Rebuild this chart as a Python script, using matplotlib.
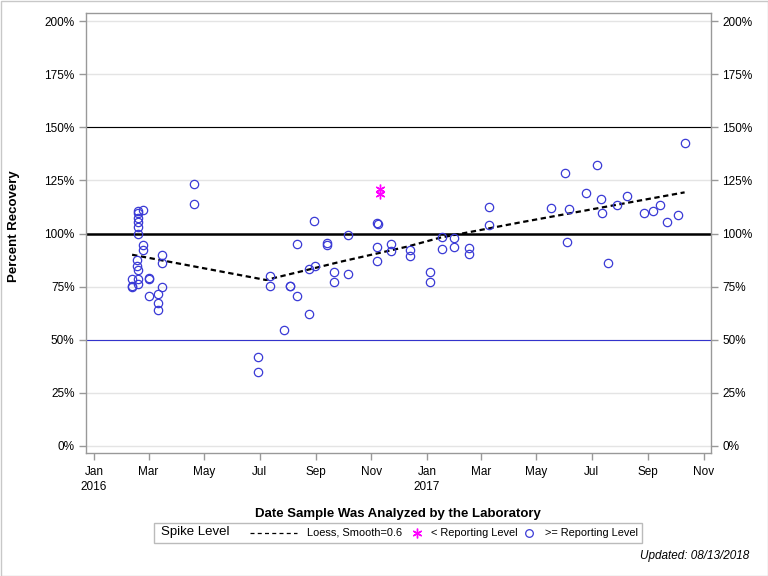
import matplotlib
matplotlib.use('Agg')
import matplotlib.pyplot as plt
import matplotlib.dates as mdates
from matplotlib.lines import Line2D
from matplotlib.patches import Rectangle
from matplotlib.ticker import FuncFormatter
import numpy as np

plt.rcParams['font.family'] = ['Liberation Sans', 'DejaVu Sans']

# ---------------- data ----------------
circle_dates = [
    '2016-02-12', '2016-02-12', '2016-02-12',
    '2016-02-17', '2016-02-17', '2016-02-18', '2016-02-18', '2016-02-18', '2016-02-18',
    '2016-02-18', '2016-02-18', '2016-02-19', '2016-02-19', '2016-02-19',
    '2016-02-24', '2016-02-24', '2016-02-24',
    '2016-03-01', '2016-03-01', '2016-03-01',
    '2016-03-11', '2016-03-11', '2016-03-11',
    '2016-03-16', '2016-03-16', '2016-03-16',
    '2016-04-20', '2016-04-20',
    '2016-06-29', '2016-06-29',
    '2016-07-12', '2016-07-12',
    '2016-07-28',
    '2016-08-03', '2016-08-03',
    '2016-08-11', '2016-08-11',
    '2016-08-24', '2016-08-24',
    '2016-08-30', '2016-08-31',
    '2016-09-13', '2016-09-13',
    '2016-09-21', '2016-09-21',
    '2016-10-06', '2016-10-06',
    '2016-11-07', '2016-11-08', '2016-11-07', '2016-11-07',
    '2016-11-22', '2016-11-22',
    '2016-12-13', '2016-12-13',
    '2017-01-04', '2017-01-04',
    '2017-01-17', '2017-01-18',
    '2017-01-31', '2017-01-31',
    '2017-02-16', '2017-02-16',
    '2017-03-10', '2017-03-10',
    '2017-05-17',
    '2017-06-02', '2017-06-04', '2017-06-06',
    '2017-06-25',
    '2017-07-07', '2017-07-11', '2017-07-12', '2017-07-19', '2017-07-29',
    '2017-08-09', '2017-08-27',
    '2017-09-06', '2017-09-14', '2017-09-22',
    '2017-10-04', '2017-10-11',
]
circle_values = [
    78.6, 75.1, 74.8,
    87.5, 84.5, 110.7, 109.5, 102.9, 82.7,
    78.6, 76.1, 107.2, 105.3, 99.6,
    110.9, 94.4, 92.1,
    78.9, 78.4, 70.4,
    71.3, 67.1, 63.9,
    89.7, 86.0, 74.6,
    123.2, 113.8,
    41.7, 34.6,
    79.8, 75.1,
    54.4,
    75.4, 75.2,
    94.9, 70.4,
    83.3, 61.9,
    105.7, 84.5,
    95.5, 94.4,
    81.7, 77.0,
    99.2, 80.8,
    104.8, 104.5, 93.5, 86.9,
    94.9, 91.9,
    92.1, 89.3,
    81.7, 77.0,
    98.5, 92.6,
    97.7, 93.5,
    93.3, 90.2,
    112.3, 103.9,
    111.9,
    128.4, 95.9, 111.4,
    118.9,
    132.1, 116.1, 109.7, 86.0, 113.3,
    117.5, 109.5,
    110.5, 113.3, 105.3,
    108.6, 142.5,
]
below_dates = ['2016-11-10', '2016-11-10']
below_values = [120.8, 118.6]

loess_dates = ['2016-02-12', '2016-07-08', '2016-08-22', '2016-09-28', '2016-11-03',
               '2016-12-10', '2017-01-15', '2017-04-13', '2017-10-11']
loess_values = [90.0, 78.1, 82.8, 86.7, 90.2, 93.8, 98.0, 105.2, 119.4]

ref_levels = [50, 100, 150]
ref_colors = ['#3333cc', 'black', 'black']
ref_widths = [0.8, 1.8, 0.8]
ytick_values = [0, 25, 50, 75, 100, 125, 150, 175, 200]
x_limits = ['2015-12-23', '2017-11-09']
y_limits = [-3.6, 203.8]

# ---------------- figure ----------------
W, H = 768, 576
fig = plt.figure(figsize=(W / 100, H / 100), dpi=100)

def fx(px):
    return px / W

def fy(py):
    return 1 - py / H

ax = fig.add_axes([fx(85.7), fy(453.3), (711 - 85.7) / W, (453.3 - 13.3) / H])

cd = np.array(circle_dates, dtype='datetime64[D]')
bd = np.array(below_dates, dtype='datetime64[D]')
ld = np.array(loess_dates, dtype='datetime64[D]')

for v in ytick_values:
    ax.axhline(v, color='#e4e4e4', lw=1.0, zorder=0)
for lvl, c, w in zip(ref_levels, ref_colors, ref_widths):
    ax.axhline(lvl, color=c, lw=w, zorder=1)

ax.plot(ld, loess_values, color='black', lw=1.6, dashes=(2.4, 1.6), zorder=3)
ax.plot(cd, circle_values, linestyle='none', marker='o', markersize=6,
        markerfacecolor='none', markeredgecolor='#3a3ad6', markeredgewidth=0.9, zorder=4)
ax.plot(bd, below_values, linestyle='none', marker=(6, 2, 0), markersize=7,
        color='#ff00ff', markeredgewidth=1.0, zorder=5)

ax.set_xlim(np.datetime64(x_limits[0]), np.datetime64(x_limits[1]))
ax.set_ylim(*y_limits)

ax.xaxis.set_major_locator(mdates.MonthLocator(bymonth=[1, 3, 5, 7, 9, 11]))

def month_fmt(x, pos=None):
    d = mdates.num2date(x)
    s = d.strftime('%b')
    if d.month == 1:
        s += '\n' + d.strftime('%Y')
    return s

ax.xaxis.set_major_formatter(FuncFormatter(month_fmt))
ax.set_yticks(ytick_values)
ax.yaxis.set_major_formatter(FuncFormatter(lambda v, p: f'{int(v)}%'))

for sp in ax.spines.values():
    sp.set_color('#999999')
    sp.set_linewidth(1.0)

ax.tick_params(axis='both', direction='out', length=5, width=1, color='#999999',
               labelsize=8.5, labelcolor='black')
ax.tick_params(axis='y', right=True, labelright=True, pad=3)
ax.tick_params(axis='x', pad=4)
for lbl in ax.get_xticklabels():
    lbl.set_linespacing(1.35)

ax.set_xlabel('Date Sample Was Analyzed by the Laboratory', fontsize=9.5,
              fontweight='bold')
ax.xaxis.set_label_coords(0.5, (453.3 - 508) / 440)
ax.set_ylabel('Percent Recovery', fontsize=9.5, fontweight='bold')
ax.yaxis.set_label_coords((20 - 85.7) / 625.3, (453.3 - 226) / 440)

# ---------------- legend ----------------
ly = 532.5
fig.patches.append(Rectangle((fx(153.5), fy(543)), (641.5 - 153.5) / W, (543 - 523) / H,
                             transform=fig.transFigure, fill=False,
                             edgecolor='#bbbbbb', lw=1.0))
fig.text(fx(161), fy(ly), 'Spike Level', fontsize=9.5, va='center', ha='left')
fig.lines.append(Line2D([fx(250), fx(297)], [fy(ly), fy(ly)], transform=fig.transFigure,
                        color='black', lw=0.9, dashes=(3.2, 2.6)))
fig.text(fx(307), fy(ly), 'Loess, Smooth=0.6', fontsize=7.9, va='center', ha='left')
fig.lines.append(Line2D([fx(416.7)], [fy(ly)], transform=fig.transFigure,
                        linestyle='none', marker=(6, 2, 0), markersize=7,
                        color='#ff00ff', markeredgewidth=1.0))
fig.text(fx(431), fy(ly), '< Reporting Level', fontsize=7.9, va='center', ha='left')
fig.lines.append(Line2D([fx(529.3)], [fy(ly)], transform=fig.transFigure,
                        linestyle='none', marker='o', markersize=5.5,
                        markerfacecolor='none', markeredgecolor='#3a3ad6',
                        markeredgewidth=0.9))
fig.text(fx(545), fy(ly), '>= Reporting Level', fontsize=7.9, va='center', ha='left')

fig.text(fx(749), fy(556), 'Updated: 08/13/2018', fontsize=8.5, style='italic',
         va='center', ha='right')

fig.patches.append(Rectangle((0.5 / W, 0.5 / H), 1 - 1 / W, 1 - 1 / H,
                             transform=fig.transFigure, fill=False,
                             edgecolor='#c8c8c8', lw=1.0))

fig.savefig('out.png', dpi=100)
